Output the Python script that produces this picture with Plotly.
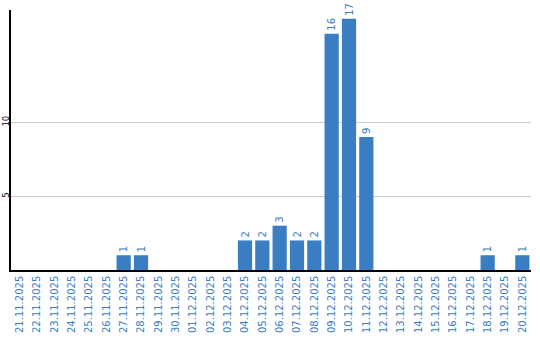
import plotly.graph_objects as go

dates = ["21.11.2025","22.11.2025","23.11.2025","24.11.2025","25.11.2025","26.11.2025",
         "27.11.2025","28.11.2025","29.11.2025","30.11.2025","01.12.2025","02.12.2025",
         "03.12.2025","04.12.2025","05.12.2025","06.12.2025","07.12.2025","08.12.2025",
         "09.12.2025","10.12.2025","11.12.2025","12.12.2025","13.12.2025","14.12.2025",
         "15.12.2025","16.12.2025","17.12.2025","18.12.2025","19.12.2025","20.12.2025"]
counts = [0,0,0,0,0,0,1,1,0,0,0,0,0,2,2,3,2,2,16,17,9,0,0,0,0,0,0,1,0,1]
labels = [str(v) if v > 0 else "" for v in counts]
y_ticks = [5, 10]

blue = "#3a7dc2"

fig = go.Figure(go.Bar(
    x=dates, y=counts, text=labels, textposition="outside", textangle=-90,
    textfont=dict(family="DejaVu Sans", size=10, color=blue),
    marker=dict(color=blue, line=dict(width=0)), cliponaxis=False,
))
fig.update_layout(
    width=540, height=340, margin=dict(l=11, r=9, t=10, b=70),
    paper_bgcolor="white", plot_bgcolor="white", bargap=0.18,
    showlegend=False,
    font=dict(family="DejaVu Sans"),
)
fig.update_xaxes(type="category", tickangle=-90, showline=True, linecolor="black", linewidth=1.5,
                 tickfont=dict(family="DejaVu Sans", size=10, color=blue), showgrid=False, ticks="",
                 automargin=False)
fig.update_yaxes(range=[0, 17.6], tickvals=y_ticks, tickangle=-90, showline=True, linecolor="black",
                 linewidth=1.5, gridcolor="#cccccc", gridwidth=1, zeroline=False,
                 tickfont=dict(family="DejaVu Sans", size=8, color="black"), ticks="",
                 automargin=False, ticklabelstandoff=-3)
fig.write_html("out.html")
